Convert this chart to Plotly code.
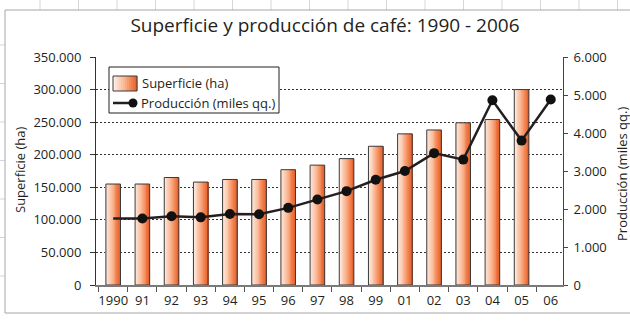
import plotly.graph_objects as go

# ---- data -------------------------------------------------------------
years = ["1990", "91", "92", "93", "94", "95", "96", "97", "98", "99",
         "01", "02", "03", "04", "05", "06"]
superficie_ha = [155000, 155000, 165000, 158000, 162000, 162000, 177000, 184000,
                 194000, 213000, 232000, 238000, 249000, 254000, 300000, None]
produccion_miles_qq = [1750, 1750, 1810, 1780, 1870, 1860, 2030, 2250,
                       2470, 2770, 3000, 3470, 3300, 4860, 3800, 4880]
left_ticks = [0, 50000, 100000, 150000, 200000, 250000, 300000, 350000]
right_ticks = [0, 1000, 2000, 3000, 4000, 5000, 6000]

# ---- geometry helpers ---------------------------------------------------
W, H = 630, 325
ML, MR, MT, MB = 96, 67, 57, 40
PW, PH = W - ML - MR, H - MT - MB
FONT = "Open Sans"
INK = "#231f20"


def px(x):
    return (x - ML) / PW


def py(y):
    return (H - MB - y) / PH


STOPS = [(0.0, (254, 242, 235)), (0.45, (250, 185, 150)),
         (0.85, (240, 115, 60)), (1.0, (225, 95, 45))]


def shade(t):
    for (t0, c0), (t1, c1) in zip(STOPS, STOPS[1:]):
        if t <= t1:
            f = (t - t0) / (t1 - t0)
            r, g, b = (round(a + (b_ - a) * f) for a, b_ in zip(c0, c1))
            return f"rgb({r},{g},{b})"
    return "rgb(%d,%d,%d)" % STOPS[-1][1]


fig = go.Figure()

# bars with a horizontal gradient, built from thin overlaid slices
BAR_W = 0.5
N = 16
for k in range(N):
    t = (k + 0.5) / N
    fig.add_trace(go.Bar(
        x=years, y=superficie_ha,
        width=BAR_W / N * (1.0 if k == N - 1 else 1.15),
        offset=-BAR_W / 2 + k * BAR_W / N,
        marker=dict(color=shade(t), line=dict(width=0)),
        showlegend=False, hoverinfo="skip"))

# bar outlines
fig.add_trace(go.Bar(
    x=years, y=superficie_ha, width=BAR_W, offset=-BAR_W / 2,
    marker=dict(color="rgba(0,0,0,0)", line=dict(color="#3a3a3a", width=1)),
    name="Superficie (ha)", showlegend=False))

# production line on the secondary axis
fig.add_trace(go.Scatter(
    x=years, y=produccion_miles_qq, yaxis="y2", mode="lines+markers",
    line=dict(color=INK, width=2.5),
    marker=dict(size=[0] + [10] * (len(years) - 1), color="#111111",
                opacity=1, line=dict(width=0)),
    name="Producción (miles qq.)", showlegend=False))

shapes = []
# spreadsheet cells around the chart frame
for i in range(17):
    x = 40 + 38.5 * i
    shapes.append(dict(type="line", xref="paper", yref="paper",
                       x0=px(x), x1=px(x), y0=py(0), y1=py(10),
                       line=dict(color="#d6d6d6", width=1), layer="below"))
for i in range(7):
    y = 45 + 38.5 * i
    shapes.append(dict(type="line", xref="paper", yref="paper",
                       x0=px(0), x1=px(5), y0=py(y), y1=py(y),
                       line=dict(color="#d6d6d6", width=1), layer="below"))
shapes.append(dict(type="rect", xref="paper", yref="paper",
                   x0=px(5), x1=px(640), y0=py(10), y1=py(313),
                   fillcolor="white", line=dict(color="#a6a6a6", width=1),
                   layer="below"))

# legend box
shapes.append(dict(type="rect", xref="paper", yref="paper",
                   x0=px(109), x1=px(279), y0=py(67), y1=py(113),
                   fillcolor="white", line=dict(color=INK, width=1)))
SW0, SW1 = 113, 137
NS = 12
for k in range(NS):
    a = SW0 + (SW1 - SW0) * k / NS
    b = SW0 + (SW1 - SW0) * (k + 1) / NS + 0.4
    shapes.append(dict(type="rect", xref="paper", yref="paper",
                       x0=px(a), x1=px(b), y0=py(76), y1=py(91),
                       fillcolor=shade((k + 0.5) / NS), line=dict(width=0)))
shapes.append(dict(type="rect", xref="paper", yref="paper",
                   x0=px(SW0), x1=px(SW1), y0=py(76), y1=py(91),
                   fillcolor="rgba(0,0,0,0)", line=dict(color="#3a3a3a", width=1)))
shapes.append(dict(type="line", xref="paper", yref="paper",
                   x0=px(113), x1=px(133), y0=py(103), y1=py(103),
                   line=dict(color=INK, width=2.5)))
shapes.append(dict(type="circle", xref="paper", yref="paper",
                   x0=px(128.5), x1=px(137.5), y0=py(98.5), y1=py(107.5),
                   fillcolor="#111111", line=dict(color="#111111", width=0)))

annotations = [
    dict(text="Superficie (ha)", xref="paper", yref="paper",
         x=px(140), y=py(83), xanchor="left", yanchor="middle",
         showarrow=False, font=dict(family=FONT, size=13, color=INK)),
    dict(text="Producción (miles qq.)", xref="paper", yref="paper",
         x=px(139), y=py(103), xanchor="left", yanchor="middle",
         showarrow=False, font=dict(family=FONT, size=13, color=INK)),
    dict(text="Superficie (ha)", xref="paper", yref="paper",
         x=px(20), y=py(170), xanchor="center", yanchor="middle", textangle=-90,
         showarrow=False, font=dict(family=FONT, size=13, color=INK)),
    dict(text="Producción (miles qq.)", xref="paper", yref="paper",
         x=px(622), y=py(174), xanchor="center", yanchor="middle", textangle=-90,
         showarrow=False, font=dict(family=FONT, size=13, color=INK)),
]

fig.update_layout(
    width=W, height=H, autosize=False,
    margin=dict(l=ML, r=MR, t=MT, b=MB, pad=0),
    paper_bgcolor="white", plot_bgcolor="rgba(0,0,0,0)",
    separators=",.",
    barmode="overlay",
    showlegend=False,
    font=dict(family=FONT, size=13, color=INK),
    title=dict(text="Superficie y producción de café: 1990 - 2006",
               x=325 / W, y=1 - 25 / H, xref="container", yref="container",
               xanchor="center", yanchor="middle",
               font=dict(family=FONT, size=19, color=INK)),
    xaxis=dict(type="category", categoryorder="array", categoryarray=years,
               range=[-0.59, 15.42], showgrid=False, zeroline=False,
               showline=True, linecolor="#7a7a7a", linewidth=2,
               ticks="outside", ticklen=5, tickcolor="#555", tickwidth=1,
               tickson="boundaries", tickangle=0, automargin=False,
               ticklabelstandoff=2,
               tickfont=dict(family=FONT, size=13, color=INK)),
    yaxis=dict(range=[0, 350000], tickvals=left_ticks, tickformat=",.0f",
               showgrid=True, gridcolor="#333", gridwidth=1, griddash="2px,2px",
               zeroline=False, showline=True, linecolor="#333", linewidth=1,
               ticks="outside", ticklen=5, tickcolor="#333",
               ticklabelstandoff=6, automargin=False,
               tickfont=dict(family=FONT, size=13, color=INK)),
    yaxis2=dict(range=[0, 6000], tickvals=right_ticks, tickformat=",.0f",
                overlaying="y", side="right", showgrid=False, zeroline=False,
                showline=True, linecolor="#444", linewidth=1,
                ticks="outside", ticklen=4, tickcolor="#444", automargin=False,
                ticklabelstandoff=3,
                tickfont=dict(family=FONT, size=13, color=INK)),
    shapes=shapes,
    annotations=annotations,
)

fig.write_html("out.html")
